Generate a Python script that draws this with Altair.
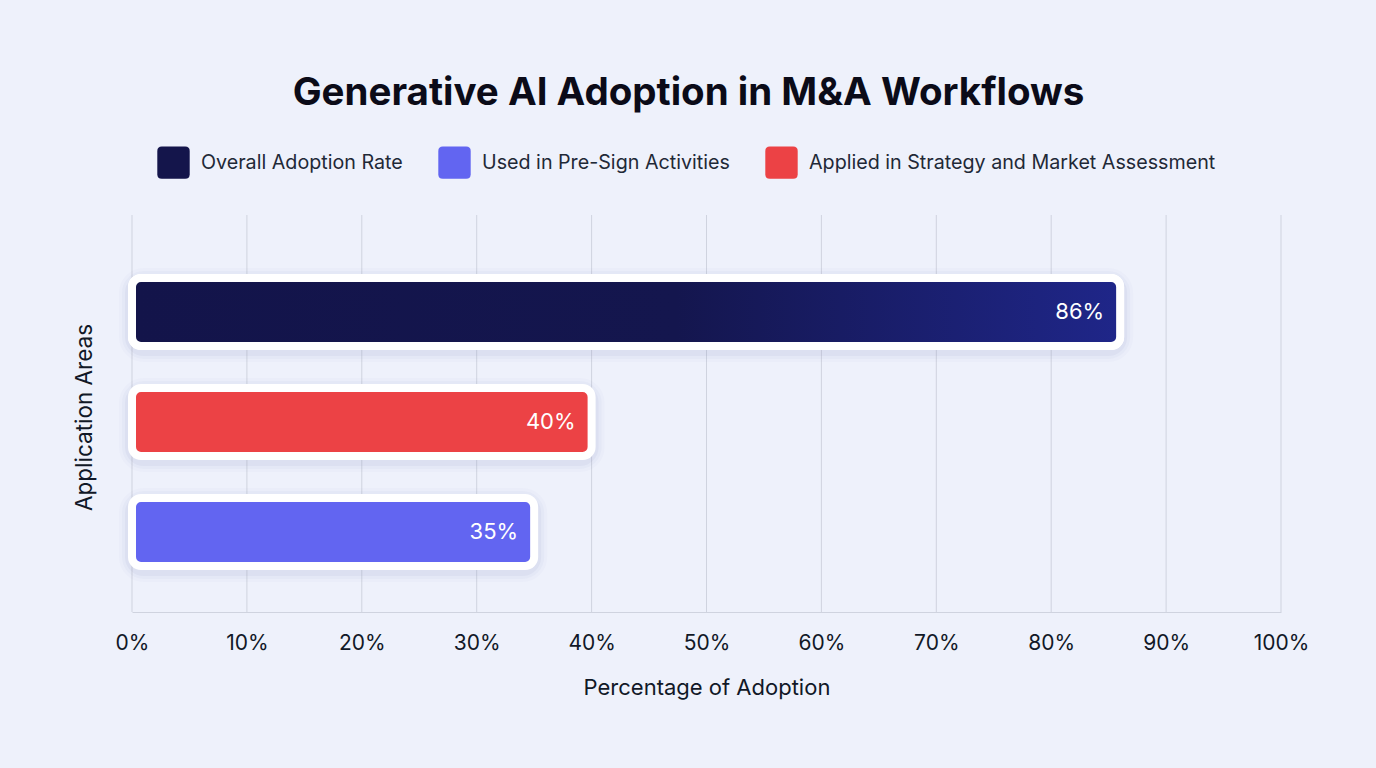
import altair as alt
import pandas as pd

# Adoption figures for each application area
areas = [
    "Overall Adoption Rate",
    "Applied in Strategy and Market Assessment",
    "Used in Pre-Sign Activities",
]
values = [86, 40, 35]
labels = ["86%", "40%", "35%"]

legend_order = [
    "Overall Adoption Rate",
    "Used in Pre-Sign Activities",
    "Applied in Strategy and Market Assessment",
]
legend_colors = ["#14154b", "#6265f1", "#ec4245"]

x_ticks = [0, 10, 20, 30, 40, 50, 60, 70, 80, 90, 100]

df = pd.DataFrame({"area": areas, "value": values, "label": labels})
grid_df = pd.DataFrame({"tick": x_ticks})

FONT = "Inter"
BG = "#eef1fb"
GRID = "#cfd3df"

PLOT_W = 1149
PLOT_H = 397

y_enc = alt.Y(
    "area:N",
    sort=areas,
    scale=alt.Scale(domain=areas, range=[42, 372], paddingInner=0, paddingOuter=0),
    axis=alt.Axis(
        title="Application Areas",
        labels=False,
        ticks=False,
        domain=False,
        grid=False,
        titleFontSize=22.5,
        titleFontWeight="normal",
        titleColor="#111827",
        titlePadding=36,
        titleY=202,
    ),
)

x_enc = alt.X(
    "value:Q",
    scale=alt.Scale(domain=[0, 100], nice=False),
    axis=alt.Axis(
        title="Percentage of Adoption",
        values=x_ticks,
        labelExpr="datum.value + '%'",
        labelFontSize=21,
        labelColor="#111827",
        labelPadding=20,
        labelFlush=False,
        ticks=False,
        domain=True,
        domainColor=GRID,
        grid=False,
        titleFontSize=22,
        titleFontWeight="normal",
        titleColor="#111827",
        titlePadding=24,
    ),
)

# vertical gridlines across the full plot height
grid = alt.Chart(grid_df).mark_rule(color=GRID, strokeWidth=1).encode(
    x=alt.X("tick:Q", scale=alt.Scale(domain=[0, 100], nice=False)),
    y=alt.value(0),
    y2=alt.value(PLOT_H),
)

base = alt.Chart(df)

# soft shadow halos under each bar
shadows = [
    base.mark_bar(size=68, cornerRadius=12, fill="#7c84b4", fillOpacity=0,
                  stroke="#7c84b4", strokeWidth=w, strokeOpacity=o, yOffset=3)
    .encode(x=alt.X("value:Q"), x2=alt.datum(0), y=alt.Y("area:N", sort=areas))
    for w, o in [(26, 0.03), (20, 0.045), (14, 0.07)]
]

bars = base.mark_bar(
    size=68, cornerRadius=9, stroke="white", strokeWidth=8
).encode(
    x=x_enc,
    x2=alt.datum(0),
    y=y_enc,
    fill=alt.Fill(
        "area:N",
        scale=alt.Scale(domain=legend_order, range=legend_colors),
        legend=alt.Legend(
            title=None,
            orient="none",
            direction="horizontal",
            legendX=25,
            legendY=-69,
            symbolType="M -0.72 -1 L 0.72 -1 Q 1 -1 1 -0.72 L 1 0.72 Q 1 1 0.72 1 L -0.72 1 Q -1 1 -1 0.72 L -1 -0.72 Q -1 -1 -0.72 -1 Z",
            symbolSize=1050,
            symbolStrokeWidth=0,
            symbolOpacity=1,
            labelFontSize=19.7,
            labelColor="#1f2937",
            labelOffset=11,
            columnPadding=35,
            labelLimit=600,
        ),
    ),
)

gradient = alt.LinearGradient(
    gradient="linear",
    x1=0, x2=1, y1=0, y2=0,
    stops=[
        alt.GradientStop(offset=0, color="#13144a"),
        alt.GradientStop(offset=0.55, color="#14164e"),
        alt.GradientStop(offset=1, color="#1f2689"),
    ],
)

overall = base.transform_filter(
    alt.datum.area == "Overall Adoption Rate"
).mark_bar(
    size=68, cornerRadius=9, stroke="white", strokeWidth=8, fill=gradient
).encode(
    x=alt.X("value:Q"),
    x2=alt.datum(0),
    y=alt.Y("area:N", sort=areas),
)

text = base.mark_text(
    align="right", baseline="middle", dx=-16, fontSize=22, color="white", font=FONT
).encode(
    x=alt.X("value:Q"),
    y=alt.Y("area:N", sort=areas),
    text="label:N",
)

chart = alt.layer(grid, *shadows, bars, overall, text).properties(
    width=PLOT_W,
    height=PLOT_H,
    title=alt.TitleParams(
        "Generative AI Adoption in M&A Workflows",
        fontSize=38.5,
        fontWeight="bold",
        color="#0b0b18",
        font=FONT,
        anchor="middle",
        dx=-18,
        offset=33,
    ),
    background=BG,
    padding={"left": 132, "top": 215, "right": 95, "bottom": 156},
    autosize=alt.AutoSizeParams(type="none"),
).configure(
    font=FONT,
).configure_view(
    stroke=None,
).configure_axis(
    labelFont=FONT,
    titleFont=FONT,
).configure_legend(
    labelFont=FONT,
)

chart.save("out.html", embed_options={"renderer": "svg", "actions": False})
